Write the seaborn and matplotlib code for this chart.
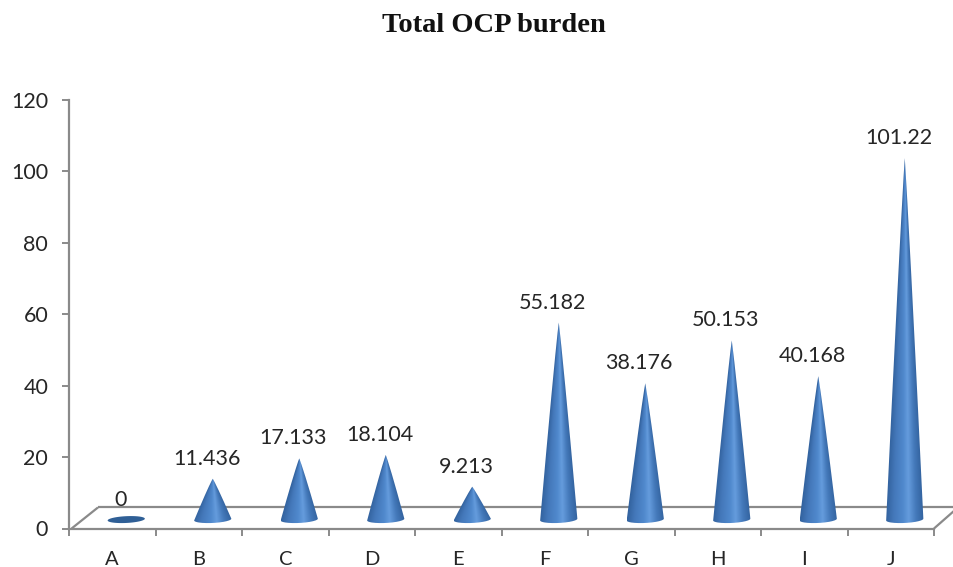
import numpy as np
import matplotlib
matplotlib.use("Agg")
import matplotlib.pyplot as plt
from matplotlib.colors import LinearSegmentedColormap
from matplotlib.patches import PathPatch
from matplotlib.path import Path
import seaborn as sns

categories = ["A", "B", "C", "D", "E", "F", "G", "H", "I", "J"]
values = [0, 11.436, 17.133, 18.104, 9.213, 55.182, 38.176, 50.153, 40.168, 101.22]
value_labels = ["0", "11.436", "17.133", "18.104", "9.213", "55.182", "38.176", "50.153", "40.168", "101.22"]
y_ticks = [0, 20, 40, 60, 80, 100, 120]
title = "Total OCP burden"

sns.set_theme(style="white")
plt.rcParams["font.family"] = ["Lato", "DejaVu Sans"]
GREY = "#8a8a8a"
TXT = "#262626"

W, H = 954, 567
fig = plt.figure(figsize=(W / 100, H / 100), dpi=100)
ax = fig.add_axes([69 / W, (H - 528.5) / H, 865 / W, 428.5 / H])

sns.barplot(x=categories, y=values, width=0.43, color="#4f81bd", ax=ax)
ax.set_xlim(-0.5, 9.5)
ax.set_ylim(0, 120)

cmap = LinearSegmentedColormap.from_list(
    "cone",
    [(0.0, "#33639f"), (0.2, "#4478ba"), (0.45, "#5089cd"), (0.60, "#659cdd"),
     (0.8, "#4479ba"), (1.0, "#33639f")],
)

depth_x, depth_y = 14 / 86.5, 2.5
ell_h = 0.95
tilt = 0.25
bulge = 0.93

# floor
fx = 29 / 86.5
fy = 5.9
floor = dict(color=GREY, lw=1.6, clip_on=False, zorder=1, solid_capstyle="butt")
ax.plot([-0.5 + 0.03, -0.5 + fx], [0.0, fy], **floor)
ax.plot([-0.5 + fx, 9.5 + 0.235], [fy, fy], **floor)
ax.plot([9.5, 9.5 + 0.235], [0.0, 5.0], **floor)

for patch, v, lab in zip(list(ax.patches), values, value_labels):
    xc = patch.get_x() + patch.get_width() / 2 + depth_x
    hw = patch.get_width() / 2
    h = patch.get_height()
    patch.set_visible(False)
    t = np.linspace(np.pi, 2 * np.pi, 40)
    arc = np.column_stack([xc + hw * np.cos(t),
                           depth_y + ell_h * np.sin(t) + tilt * np.cos(t)])
    if h <= 0:
        t2 = np.linspace(0, np.pi, 40)
        top = np.column_stack([xc + hw * np.cos(t2),
                               depth_y + ell_h * np.sin(t2) + tilt * np.cos(t2)])
        pts = np.vstack([arc, top, arc[:1]])
        ax.add_patch(PathPatch(Path(pts), fc="#2f5f96", ec="none", zorder=3))
    else:
        s = np.linspace(1, 0, 60)
        right = np.column_stack([xc + hw * s ** bulge, depth_y + tilt + (h - tilt) * (1 - s)])
        left = np.column_stack([xc - hw * s[::-1] ** bulge, depth_y - tilt + (h + tilt) * (1 - s[::-1])])
        pts = np.vstack([left, arc, right])
        clip = PathPatch(Path(pts), fc="none", ec="none", transform=ax.transData)
        ax.add_patch(clip)
        xs = np.linspace(xc - hw, xc + hw, 160)
        ys = np.linspace(depth_y - ell_h - tilt, depth_y + h, 400)
        X, Y = np.meshgrid(xs, ys)
        half = hw * np.clip(1 - (Y - depth_y) / h, 0.002, 1) ** bulge
        u = np.clip((X - xc) / half, -1, 1) * 0.5 + 0.5
        im = ax.imshow(u, cmap=cmap, vmin=0, vmax=1, origin="lower", aspect="auto",
                       extent=(xs[0], xs[-1], ys[0], ys[-1]), zorder=3,
                       interpolation="bilinear")
        im.set_clip_path(clip)
    ax.annotate(lab, (xc, depth_y + h), xytext=(-4.3, 14.4), textcoords="offset points",
                ha="center", va="center", fontsize=15.5, color=TXT, zorder=4,
                annotation_clip=False)

ax.set_xlim(-0.5, 9.5)
ax.set_ylim(0, 120)

sns.despine(ax=ax)
for s in ("left", "bottom"):
    ax.spines[s].set_color(GREY)
    ax.spines[s].set_linewidth(1.6)

ax.set_yticks(y_ticks)
ax.set_yticklabels([str(v) for v in y_ticks], fontsize=15.5, color=TXT)
ax.tick_params(axis="y", left=True, length=5, width=1.4, color=GREY, pad=10)
ax.set_xticks(range(10))
ax.set_xticklabels(categories, fontsize=14.5, color=TXT)
ax.set_xticks(np.arange(-0.5, 10), minor=True)
ax.tick_params(axis="x", which="major", bottom=False, length=0, pad=16)
ax.tick_params(axis="x", which="minor", bottom=True, length=5, width=1.4, color=GREY)
ax.set_xlabel("")
ax.set_ylabel("")

fig.text(494 / W, 1 - 25 / H, title, ha="center", va="center", fontsize=20.5,
         fontweight="bold", family="Liberation Serif", color="#111111")

fig.savefig("out.png", dpi=100, facecolor="white")
